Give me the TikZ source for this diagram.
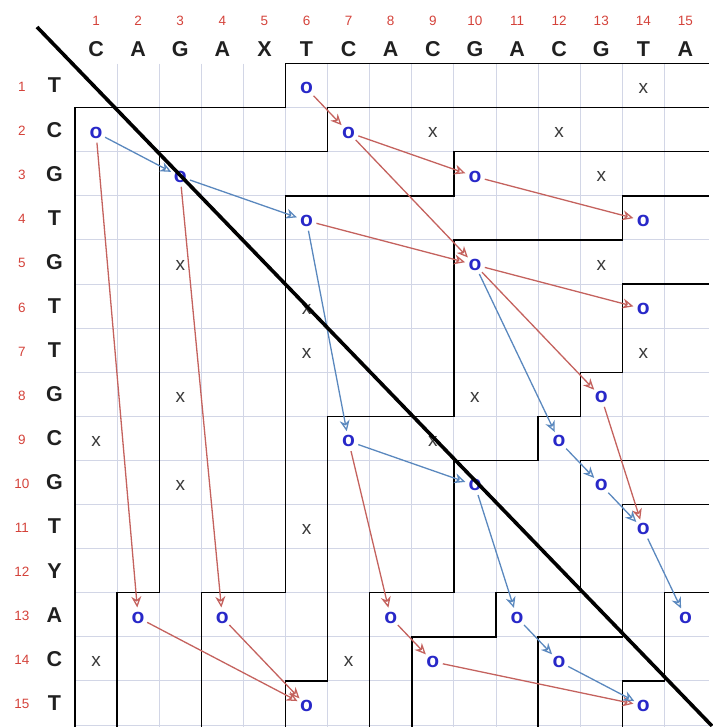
\documentclass[tikz,border=0pt]{standalone}
\usepackage{fontspec}
\setmainfont{Liberation Sans}
\usetikzlibrary{arrows.meta}
\definecolor{numred}{HTML}{D4423A}
\definecolor{oblue}{HTML}{2828C8}
\definecolor{xgray}{HTML}{3A3A3A}
\definecolor{letc}{HTML}{202020}
\definecolor{arred}{HTML}{C4625E}
\definecolor{arblue}{HTML}{5A88BE}
\definecolor{gridc}{HTML}{D2D6E6}
\begin{document}
\begin{tikzpicture}[x=42.1pt,y=-44.1pt,
  gridline/.style={draw=gridc,line width=0.9pt},
  contour/.style={draw=black,line width=1.4pt,line join=miter},
  diagline/.style={draw=black,line width=3.6pt},
  omark/.style={circle,inner sep=0pt,minimum size=20pt,text=oblue,font=\fontsize{21}{21}\selectfont\bfseries},
  xmark/.style={inner sep=0pt,text=xgray,font=\fontsize{19}{19}\selectfont},
  numlab/.style={text=numred,inner sep=0pt,font=\fontsize{13.5}{13.5}\selectfont},
  seqlet/.style={text=letc,inner sep=0pt,font=\fontsize{21.5}{21.5}\selectfont\bfseries},
  arrowtip/.style={-{Stealth[open,length=11pt,width=10pt,inset=3.5pt]}},
  redarrow/.style={draw=arred,line width=1.3pt,arrowtip},
  bluearrow/.style={draw=arblue,line width=1.3pt,arrowtip}]
\useasboundingbox (-1.7815,-1.4399) rectangle (15.1544,15.0454);
% thin grid
\foreach \i in {1,...,14} \draw[gridline] (\i,0) -- (\i,15.05);
\foreach \j in {1,...,15} \draw[gridline] (0,\j) -- (15.05,\j);
% contours
\draw[contour] (15.05,0) -- (5,0) -- (5,1) -- (0,1) -- (0,15.05);
\draw[contour] (15.05,1) -- (6,1) -- (6,2) -- (2,2) -- (2,12) -- (1,12) -- (1,15.05);
\draw[contour] (15.05,2) -- (9,2) -- (9,3) -- (5,3) -- (5,12) -- (3,12) -- (3,15.05);
\draw[contour] (15.05,3) -- (13,3) -- (13,4) -- (9,4) -- (9,8) -- (6,8) -- (6,14) -- (5,14) -- (5,15.05);
\draw[contour] (15.05,5) -- (13,5) -- (13,7) -- (12,7) -- (12,8) -- (11,8) -- (11,9) -- (9,9) -- (9,12) -- (7,12) -- (7,15.05);
\draw[contour] (15.05,9) -- (12,9) -- (12,12) -- (10,12) -- (10,13) -- (8,13) -- (8,15.05);
\draw[contour] (15.05,10) -- (13,10) -- (13,13) -- (11,13) -- (11,15.05);
\draw[contour] (15.05,12) -- (14,12) -- (14,14) -- (13,14) -- (13,15.05);
% column headers
\foreach \c/\l in {1/C,2/A,3/G,4/A,5/X,6/T,7/C,8/A,9/C,10/G,11/A,12/C,13/G,14/T,15/A} {
  \node[numlab] (cn\c) at (\c-0.5,-0.968) {\c};
  \node[seqlet] (cl\c) at (\c-0.5,-0.336) {\l};
}
% row headers
\foreach \r/\l in {1/T,2/C,3/G,4/T,5/G,6/T,7/T,8/G,9/C,10/G,11/T,12/Y,13/A,14/C,15/T} {
  \node[numlab] (rn\r) at (-1.26,\r-0.47) {\r};
  \node[seqlet] (rl\r) at (-0.487,\r-0.5) {\l};
}
% dominant matches
\foreach \r/\c in {1/6,2/1,2/7,3/3,3/10,4/6,4/14,5/10,6/14,8/13,9/7,9/12,10/10,10/13,11/14,13/2,13/4,13/8,13/11,13/15,14/9,14/12,15/6,15/14}
  \node[omark] (o\r-\c) at (\c-0.5,\r-0.435) {o};
% other matches
\foreach \r/\c in {1/14,2/9,2/12,3/13,5/3,5/13,6/6,7/6,7/14,8/3,8/10,9/1,9/9,10/3,11/6,14/1,14/7}
  \node[xmark] (x\r-\c) at (\c-0.5,\r-0.43) {x};
% red arrows
\draw[redarrow] (o1-6) -- (o2-7);
\draw[redarrow] (o2-7) -- (o3-10);
\draw[redarrow] (o2-7) -- (o5-10);
\draw[redarrow] (o3-10) -- (o4-14);
\draw[redarrow] (o4-6) -- (o5-10);
\draw[redarrow] (o5-10) -- (o6-14);
\draw[redarrow] (o5-10) -- (o8-13);
\draw[redarrow] (o8-13) -- (o11-14);
\draw[redarrow] (o2-1) -- (o13-2);
\draw[redarrow] (o3-3) -- (o13-4);
\draw[redarrow] (o13-2) -- (o15-6);
\draw[redarrow] (o13-4) -- (o15-6);
\draw[redarrow] (o9-7) -- (o13-8);
\draw[redarrow] (o13-8) -- (o14-9);
\draw[redarrow] (o14-9) -- (o15-14);
% blue arrows
\draw[bluearrow] (o2-1) -- (o3-3);
\draw[bluearrow] (o3-3) -- (o4-6);
\draw[bluearrow] (o4-6) -- (o9-7);
\draw[bluearrow] (o9-7) -- (o10-10);
\draw[bluearrow] (o5-10) -- (o9-12);
\draw[bluearrow] (o9-12) -- (o10-13);
\draw[bluearrow] (o10-13) -- (o11-14);
\draw[bluearrow] (o10-10) -- (o13-11);
\draw[bluearrow] (o11-14) -- (o13-15);
\draw[bluearrow] (o13-11) -- (o14-12);
\draw[bluearrow] (o14-12) -- (o15-14);
% diagonal
\coordinate (dstart) at (-0.9026,-0.8277);
\coordinate (dend) at (15.131,15.022);
\draw[diagline] (dstart) -- (dend);
\end{tikzpicture}
\end{document}
